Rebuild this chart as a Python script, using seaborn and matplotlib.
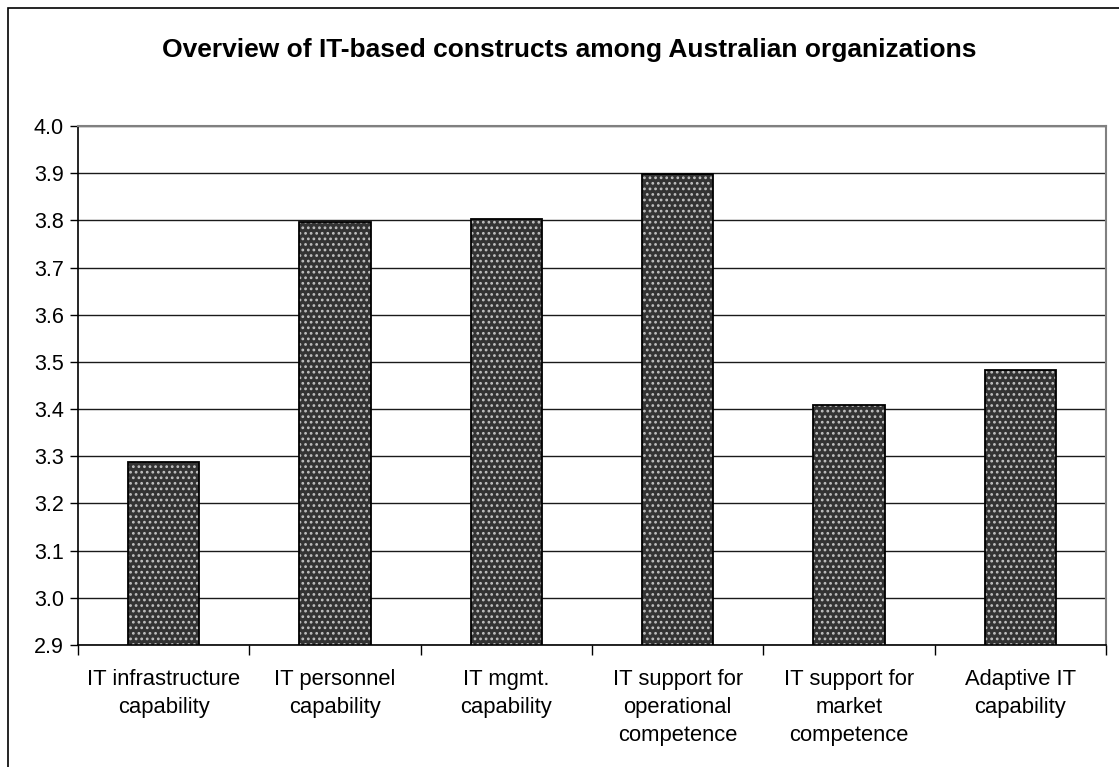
import matplotlib
matplotlib.use("Agg")
import matplotlib.pyplot as plt
import seaborn as sns
import pandas as pd
from matplotlib.patches import Rectangle

categories = [
    "IT infrastructure\ncapability",
    "IT personnel\ncapability",
    "IT mgmt.\ncapability",
    "IT support for\noperational\ncompetence",
    "IT support for\nmarket\ncompetence",
    "Adaptive IT\ncapability",
]
values = [3.288, 3.796, 3.803, 3.898, 3.409, 3.483]
yticks = [2.9, 3.0, 3.1, 3.2, 3.3, 3.4, 3.5, 3.6, 3.7, 3.8, 3.9, 4.0]
title = "Overview of IT-based constructs among Australian organizations"

sns.set_theme(style="white")
plt.rcParams["font.family"] = ["Liberation Sans", "DejaVu Sans"]
plt.rcParams["hatch.linewidth"] = 1.2
plt.rcParams["text.color"] = "black"
plt.rcParams["xtick.color"] = "black"
plt.rcParams["ytick.color"] = "black"

df = pd.DataFrame({"construct": categories, "score": values})

fig = plt.figure(figsize=(11.19, 7.67), dpi=100)
ax = fig.add_axes([0.0697, 0.1591, 0.9884 - 0.0697, 0.8357 - 0.1591])

sns.barplot(data=df, x="construct", y="score", ax=ax, color="#333333",
            width=0.415, saturation=1, edgecolor="#c0c0c0", linewidth=0)
for p in ax.patches:
    p.set_hatch("...")
# outline overlay
sns.barplot(data=df, x="construct", y="score", ax=ax, fill=False,
            width=0.415, edgecolor="#000000", linewidth=1.3)

ax.set_ylim(2.9, 4.0)
ax.set_yticks(yticks)
ax.set_yticklabels([f"{v:.1f}" for v in yticks], fontsize=15.5)
ax.yaxis.grid(True, color="#1a1a1a", linewidth=1.0)
ax.set_axisbelow(True)
ax.set_xlim(-0.5, len(categories) - 0.5)
ax.set_xticks(range(len(categories)))
ax.set_xticklabels(categories, fontsize=15.8, linespacing=1.45)
ax.set_xticks([i - 0.5 for i in range(len(categories) + 1)], minor=True)
ax.tick_params(axis="x", which="major", length=0, pad=17)
ax.tick_params(axis="x", which="minor", length=7, width=1, color="#000000", direction="out", bottom=True)
ax.tick_params(axis="y", length=6, width=1, color="#000000", direction="out", left=True, pad=4)
ax.set_xlabel("")
ax.set_ylabel("")

for s in ["top", "right"]:
    ax.spines[s].set_color("#808080")
    ax.spines[s].set_linewidth(1.5)
ax.spines["left"].set_color("#000000")
ax.spines["bottom"].set_color("#000000")
ax.spines["left"].set_linewidth(1.2)
ax.spines["bottom"].set_linewidth(1.2)

fig.text(569 / 1119, 1 - 50 / 767, title, ha="center", va="center", fontsize=19,
         fontweight="bold", color="black")

fig.patches.append(Rectangle((8 / 1119, -0.05), 1.1, 1 - 7.5 / 767 + 0.05,
                             transform=fig.transFigure, fill=False,
                             edgecolor="#000000", linewidth=1.2))

fig.savefig("out.png", dpi=100)
